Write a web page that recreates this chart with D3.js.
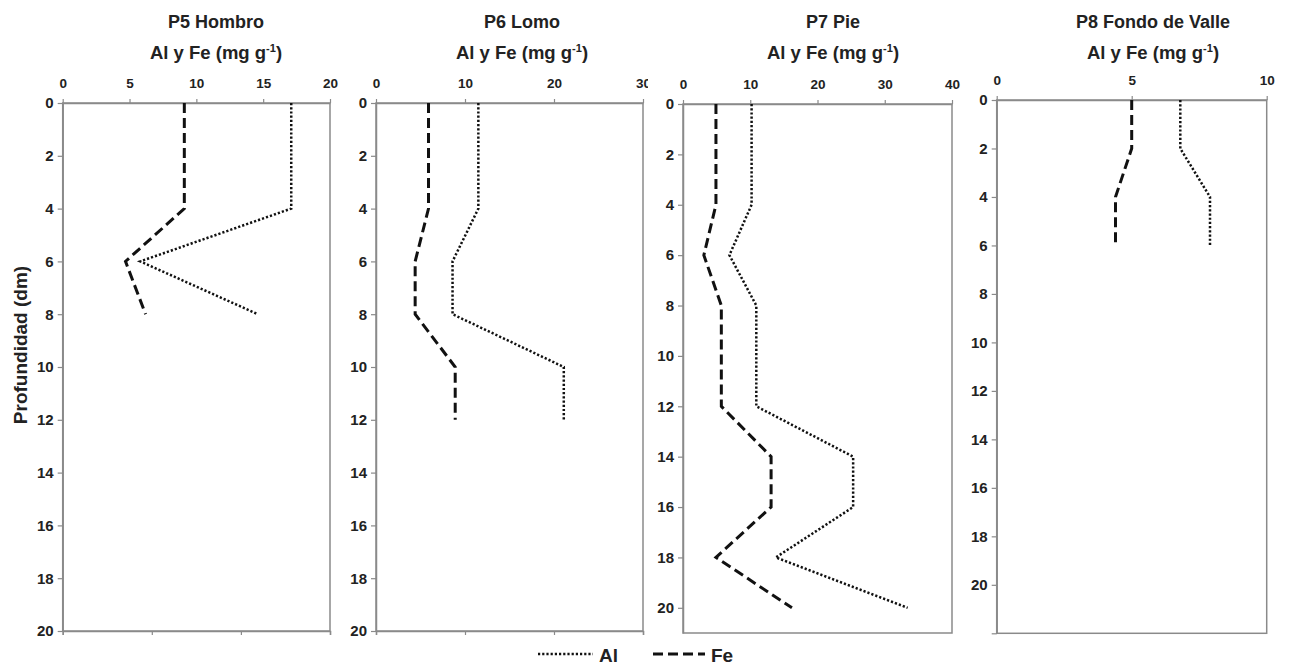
<html>
<head>
<script src="https://d3js.org/d3.v7.min.js"></script>
<style>
body {margin:0; background:#fff;}
text {font-family:"Liberation Sans", Arial, sans-serif; font-weight:bold; fill:#222;}
</style>
</head>
<body>
<svg id="chart" width="1293" height="668"></svg>
<script>
// chart data
const titles = ["P5 Hombro", "P6 Lomo", "P7 Pie", "P8 Fondo de Valle"];
const xMax = [20, 30, 40, 10];
const xTicks = [[0,5,10,15,20], [0,10,20,30], [0,10,20,30,40], [0,5,10]];
const yMax = [20, 20, 21, 22];
const yTicks = [d3.range(0, 21, 2), d3.range(0, 21, 2), d3.range(0, 21, 2), d3.range(0, 23, 2)];

const depthP5 = [0, 2, 4, 6, 8];
const alP5 = [17.1, 17.1, 17.1, 5.8, 14.6];
const feP5 = [9.1, 9.1, 9.1, 4.7, 6.2];

const depthP6 = [0, 2, 4, 6, 8, 10, 12];
const alP6 = [11.5, 11.5, 11.5, 8.6, 8.6, 21.1, 21.1];
const feP6 = [5.9, 5.9, 5.9, 4.4, 4.4, 8.9, 8.9];

const depthP7 = [0, 2, 4, 6, 8, 10, 12, 14, 16, 18, 20];
const alP7 = [10.2, 10.2, 10.2, 6.9, 10.9, 10.9, 10.9, 25.3, 25.3, 13.8, 33.4];
const feP7 = [4.9, 4.9, 4.9, 3.1, 5.7, 5.7, 5.7, 13.1, 13.1, 4.9, 16.2];

const depthP8 = [0, 2, 4, 6];
const alP8 = [6.8, 6.8, 7.9, 7.9];
const feP8 = [5.0, 5.0, 4.4, 4.4];

const depths = [depthP5, depthP6, depthP7, depthP8];
const alVals = [alP5, alP6, alP7, alP8];
const feVals = [feP5, feP6, feP7, feP8];

// layout of each panel (pixels)
const boxes = [
  {l: 62.7, r: 330, t: 103, b: 631, tc: 216, clip: null, bottomTicks: true},
  {l: 376, r: 643, t: 103, b: 631, tc: 522, clip: 648, bottomTicks: true},
  {l: 683, r: 952, t: 104, b: 633, tc: 833, clip: null, bottomTicks: false},
  {l: 996.7, r: 1266.7, t: 100, b: 633.3, tc: 1153, clip: null, bottomTicks: false}
];

const gray = "#8a8a8a";
const svg = d3.select("#chart");

svg.append("clipPath").attr("id", "clipP6")
  .append("rect").attr("x", 330).attr("y", 0).attr("width", 318).attr("height", 120);

boxes.forEach(function(b, i) {
  const x = d3.scaleLinear().domain([0, xMax[i]]).range([b.l, b.r]);
  const y = d3.scaleLinear().domain([0, yMax[i]]).range([b.t, b.b]);

  // titles
  svg.append("text").attr("x", b.tc).attr("y", 28)
    .attr("text-anchor", "middle").attr("font-size", 18).text(titles[i]);
  const t2 = svg.append("text").attr("x", b.tc).attr("y", 59)
    .attr("text-anchor", "middle").attr("font-size", 18.5);
  t2.append("tspan").text("Al y Fe (mg g");
  t2.append("tspan").attr("font-size", 11).attr("dy", -7).text("-1");
  t2.append("tspan").attr("dy", 7).text(")");

  // frame
  svg.append("rect").attr("x", b.l).attr("y", b.t)
    .attr("width", b.r - b.l).attr("height", b.b - b.t)
    .attr("fill", "none").attr("stroke", gray).attr("stroke-width", 1.5);

  // top axis
  const wrap = svg.append("g");
  if (b.clip) wrap.attr("clip-path", "url(#clipP6)");
  const top = wrap.append("g").attr("transform", "translate(0," + b.t + ")")
    .call(d3.axisTop(x).tickValues(xTicks[i]).tickSize(4).tickPadding(11).tickSizeOuter(0));
  top.selectAll("text").style("font-size", "13.5px").style("font-weight", "bold").attr("fill", "#222");

  // left axis
  const left = svg.append("g").attr("transform", "translate(" + b.l + ",0)")
    .call(d3.axisLeft(y).tickValues(yTicks[i]).tickSize(5).tickPadding(4).tickSizeOuter(0)
      .tickFormat(function(d) { return d > 20 ? "" : d; }));
  left.selectAll("text").style("font-size", "15px").style("font-weight", "bold").attr("fill", "#222");

  [top, left].forEach(function(a) {
    a.select(".domain").attr("stroke", gray).attr("stroke-width", 1.5);
    a.selectAll(".tick line").attr("stroke", gray).attr("stroke-width", 1.2);
  });

  // bottom tick marks
  if (b.bottomTicks) {
    const xb = d3.scaleLinear().domain([0, 3]).range([b.l, b.r]);
    const bottom = svg.append("g").attr("transform", "translate(0," + b.b + ")")
      .call(d3.axisBottom(xb).tickValues([0, 1, 2, 3]).tickSize(4).tickFormat(""));
    bottom.select(".domain").attr("stroke", gray).attr("stroke-width", 1.5);
    bottom.selectAll(".tick line").attr("stroke", gray).attr("stroke-width", 1.2);
  }

  // series
  const line = d3.line().x(function(d) { return x(d[0]); }).y(function(d) { return y(d[1]); });
  const al = alVals[i].map(function(v, j) { return [v, depths[i][j]]; });
  const fe = feVals[i].map(function(v, j) { return [v, depths[i][j]]; });

  svg.append("path").datum(al).attr("d", line)
    .attr("fill", "none").attr("stroke", "#111").attr("stroke-width", 2.5)
    .attr("stroke-dasharray", "2.2,2");
  svg.append("path").datum(fe).attr("d", line)
    .attr("fill", "none").attr("stroke", "#111").attr("stroke-width", 3)
    .attr("stroke-dasharray", "10,5");
});

// y axis label
svg.append("text").attr("transform", "translate(27,345) rotate(-90)")
  .attr("text-anchor", "middle").attr("font-size", 19).text("Profundidad (dm)");

// legend
const legend = [
  {name: "Al", dash: "2.2,2", w: 2.5, x1: 538, x2: 593, tx: 599},
  {name: "Fe", dash: "10,5", w: 3, x1: 653, x2: 705, tx: 711}
];
legend.forEach(function(d) {
  svg.append("line").attr("x1", d.x1).attr("x2", d.x2).attr("y1", 654).attr("y2", 654)
    .attr("stroke", "#111").attr("stroke-width", d.w).attr("stroke-dasharray", d.dash);
  svg.append("text").attr("x", d.tx).attr("y", 662).attr("font-size", 19).text(d.name);
});
</script>
</body>
</html>
